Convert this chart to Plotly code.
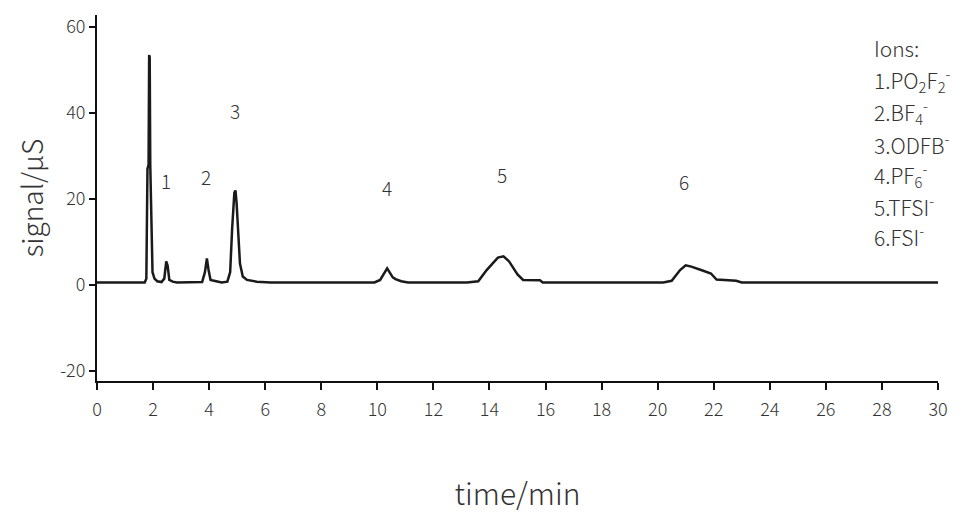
import plotly.graph_objects as go

# chromatogram trace (time in min, signal in µS)
time_min = [0, 1.70, 1.76, 1.80, 1.84, 1.86, 1.88, 1.90, 1.94, 1.98, 2.05, 2.15, 2.30,
            2.40, 2.47, 2.52, 2.58, 2.70, 2.85, 3.75, 3.85, 3.92, 3.98, 4.05, 4.25,
            4.45, 4.65, 4.75, 4.82, 4.90, 4.94, 4.98, 5.04, 5.10, 5.20, 5.35, 5.70,
            6.20, 9.90, 10.10, 10.35, 10.55, 10.65, 10.85, 11.10, 13.20, 13.60, 13.90,
            14.30, 14.50, 14.70, 15.00, 15.20, 15.80, 15.90, 20.20, 20.50, 20.80,
            21.00, 21.20, 21.60, 21.90, 22.10, 22.80, 23.00, 30.0]
signal_uS = [0.6, 0.6, 1.5, 27.0, 28.0, 53.5, 53.0, 28.0, 12.0, 3.0, 1.5, 0.9, 0.7,
             1.5, 5.5, 4.5, 1.2, 0.8, 0.6, 0.7, 3.0, 6.2, 3.5, 1.2, 0.9,
             0.6, 0.8, 3.0, 13.0, 21.5, 22.0, 19.0, 12.0, 5.0, 2.0, 1.2, 0.8,
             0.6, 0.6, 1.2, 3.9, 1.8, 1.4, 0.9, 0.6, 0.6, 0.9, 3.5,
             6.4, 6.7, 5.5, 2.5, 1.2, 1.1, 0.6, 0.6, 1.0, 3.5,
             4.6, 4.3, 3.4, 2.7, 1.3, 1.0, 0.6, 0.6]

peak_labels = ["1", "2", "3", "4", "5", "6"]
peak_label_t = [2.46, 3.89, 4.92, 10.35, 14.45, 20.94]
peak_label_y = [24.4, 25.3, 40.5, 22.8, 25.6, 24.0]

legend_lines = ["Ions:",
                "1.PO<sub>2</sub>F<sub>2</sub><sup>-</sup>",
                "2.BF<sub>4</sub><sup>-</sup>",
                "3.ODFB<sup>-</sup>",
                "4.PF<sub>6</sub><sup>-</sup>",
                "5.TFSI<sup>-</sup>",
                "6.FSI<sup>-</sup>"]
legend_y_px = [48, 80, 112, 144, 175, 206, 236]

x_ticks = list(range(0, 31, 2))
y_ticks = [-20, 0, 20, 40, 60]
y_tick_text = ["-20", "0", "20", "40", "60"]

FONT = "Noto Sans CJK SC"
TXT = "#333333"

fig = go.Figure()
fig.add_trace(go.Scatter(x=time_min, y=signal_uS, mode="lines",
                         line=dict(color="#1a1a1a", width=2.5), showlegend=False,
                         hoverinfo="skip"))

L, R, T, B = 97, 26, 15, 139
W, H = 964, 520
pw, ph = W - L - R, H - T - B

for lab, t, y in zip(peak_labels, peak_label_t, peak_label_y):
    fig.add_annotation(x=t, y=y, text=lab, showarrow=False,
                       font=dict(family=FONT, size=19, color=TXT, weight=300))

for line, ypx in zip(legend_lines, legend_y_px):
    fig.add_annotation(xref="paper", yref="paper",
                       x=(872 - L) / pw, y=(H - B - ypx) / ph,
                       xanchor="left", yanchor="middle", text=line, showarrow=False,
                       font=dict(family=FONT, size=21, color=TXT, weight=300))

fig.update_layout(
    width=W, height=H,
    margin=dict(l=L, r=R, t=T, b=B),
    paper_bgcolor="white", plot_bgcolor="white",
    font=dict(family=FONT, color=TXT, weight=300),
    xaxis=dict(range=[0, 30], tickvals=x_ticks, ticks="outside", ticklen=7,
               tickwidth=2, tickcolor="#111", showline=True, linecolor="#111",
               linewidth=2, showgrid=False, zeroline=False, automargin=False,
               ticklabelstandoff=4,
               tickfont=dict(family=FONT, size=18, color=TXT, weight=300),
               title=dict(text="time/min", standoff=64,
                          font=dict(family=FONT, size=30, color=TXT, weight=300))),
    yaxis=dict(range=[-22.3, 62.8], tickvals=y_ticks, ticktext=y_tick_text,
               ticks="outside", ticklen=6,
               tickwidth=2, tickcolor="#111", showline=True, linecolor="#111",
               linewidth=2, showgrid=False, zeroline=False, automargin=False,
               tickfont=dict(family=FONT, size=18, color=TXT, weight=300),
               title=dict(text="signal/μS", standoff=8,
                          font=dict(family=FONT, size=28, color=TXT, weight=300))),
)

fig.write_html("out.html", config={"displayModeBar": False},
               post_script="document.body.style.margin='0';")
